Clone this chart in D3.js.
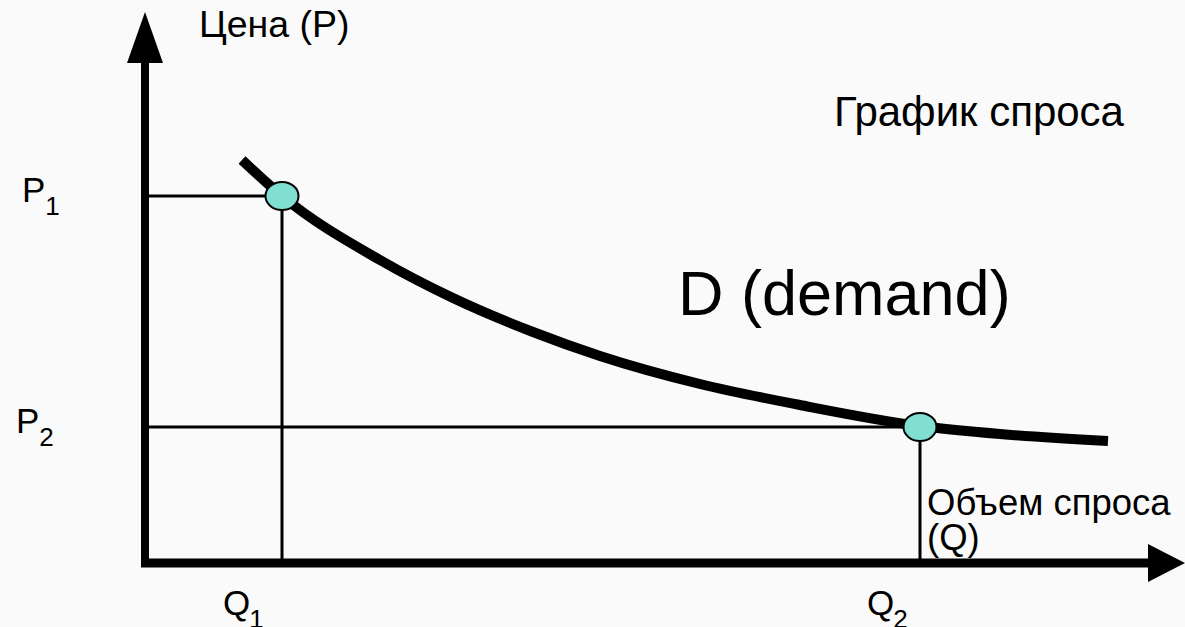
<!DOCTYPE html>
<html>
<head>
<meta charset="utf-8">
<script src="https://cdn.jsdelivr.net/npm/d3@7"></script>
<style>
  html, body { margin: 0; padding: 0; background: #fafafa; }
  svg text { font-family: "Liberation Sans", Arial, sans-serif; fill: #000; }
</style>
</head>
<body>
<div id="chart"></div>
<script>
// demand curve (Q, P in arbitrary units)
const curveQ = [9.7, 13.7, 23.5, 30.8, 38.8, 45.5, 55.5, 65.5, 77.5, 85.5, 96.3];
const curveP = [40.3, 36.7, 30.3, 26.5, 23.1, 20.7, 17.9, 15.8, 13.7, 12.9, 12.2];

// marked points on the curve
const pointNames = ['1', '2'];
const pointQ = [13.7, 77.5];
const pointP = [36.7, 13.6];

const yTitle = 'Цена (P)';
const xTitle = ['Объем спроса', '(Q)'];
const chartTitle = 'График спроса';
const curveLabel = 'D (demand)';

const width = 1185, height = 627;

const svg = d3.select('#chart').append('svg')
    .attr('width', width)
    .attr('height', height);

svg.append('rect')
    .attr('width', width)
    .attr('height', height)
    .attr('fill', '#fafafa');

const x = d3.scaleLinear().domain([0, 104]).range([145, 1185]);
const y = d3.scaleLinear().domain([0, 55]).range([563, 13]);

// guide lines from the axes to the points
const guides = svg.append('g');
pointQ.forEach((q, i) => {
    guides.append('line')
        .attr('x1', x(0)).attr('y1', y(pointP[i]))
        .attr('x2', x(q)).attr('y2', y(pointP[i]))
        .attr('stroke', '#000').attr('stroke-width', 3);
    guides.append('line')
        .attr('x1', x(q)).attr('y1', y(pointP[i]))
        .attr('x2', x(q)).attr('y2', y(0))
        .attr('stroke', '#000').attr('stroke-width', 3);
});

// the demand curve
const line = d3.line()
    .x(d => x(d[0]))
    .y(d => y(d[1]))
    .curve(d3.curveMonotoneX);

svg.append('path')
    .datum(d3.zip(curveQ, curveP))
    .attr('d', line)
    .attr('fill', 'none')
    .attr('stroke', '#000')
    .attr('stroke-width', 10);

svg.append('g').selectAll('ellipse')
    .data(pointQ)
    .join('ellipse')
    .attr('cx', d => x(d))
    .attr('cy', (d, i) => y(pointP[i]))
    .attr('rx', 16.5)
    .attr('ry', 14)
    .attr('fill', '#80dfd0')
    .attr('stroke', '#000')
    .attr('stroke-width', 2);

// axes with arrow heads
const axes = svg.append('g');
axes.append('line')
    .attr('x1', x(0)).attr('y1', y(0) + 4)
    .attr('x2', x(0)).attr('y2', y(50))
    .attr('stroke', '#000').attr('stroke-width', 8);
axes.append('polygon')
    .attr('points', [[x(0), y(55.1)], [x(0) - 18, y(50)], [x(0) + 18, y(50)]].join(' '))
    .attr('fill', '#000');

axes.append('line')
    .attr('x1', x(0) - 4).attr('y1', y(0))
    .attr('x2', x(100.3)).attr('y2', y(0))
    .attr('stroke', '#000').attr('stroke-width', 9);
axes.append('polygon')
    .attr('points', [[x(104), y(0)], [x(100.3), y(0) - 19], [x(100.3), y(0) + 19]].join(' '))
    .attr('fill', '#000');

// texts
svg.append('text')
    .attr('x', 199).attr('y', 37)
    .attr('font-size', 37.5)
    .text(yTitle);

svg.append('text')
    .attr('x', 834).attr('y', 126)
    .attr('font-size', 42)
    .text(chartTitle);

svg.append('text')
    .attr('x', 678).attr('y', 315)
    .attr('font-size', 63)
    .text(curveLabel);

svg.append('text')
    .attr('x', 927).attr('y', 515)
    .attr('font-size', 36.5)
    .selectAll('tspan')
    .data(xTitle)
    .join('tspan')
    .attr('x', 927)
    .attr('dy', (d, i) => i === 0 ? 0 : 35)
    .text(d => d);

// P and Q labels with subscripts
const pLabelX = [22, 16];
const qLabelX = [223, 867];

pointNames.forEach((n, i) => {
    const pt = svg.append('text')
        .attr('x', pLabelX[i])
        .attr('y', y(pointP[i]) + 6)
        .attr('font-size', 35);
    pt.append('tspan').text('P');
    pt.append('tspan')
        .attr('dx', 0).attr('dy', 13)
        .attr('font-size', 26)
        .text(n);

    const qt = svg.append('text')
        .attr('x', qLabelX[i])
        .attr('y', 615)
        .attr('font-size', 35);
    qt.append('tspan').text('Q');
    qt.append('tspan')
        .attr('dx', -1).attr('dy', 13)
        .attr('font-size', 26)
        .text(n);
});
</script>
</body>
</html>
